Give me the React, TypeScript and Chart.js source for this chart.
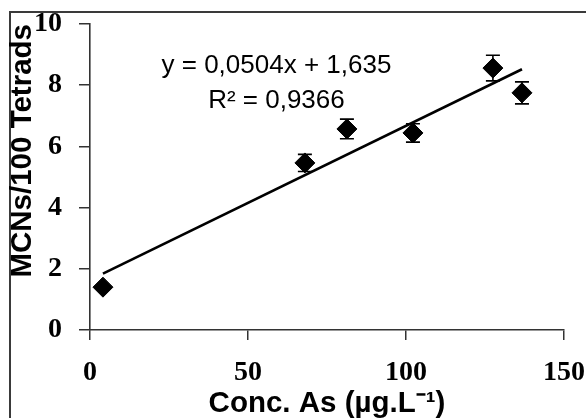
import React, { useEffect, useRef } from "react";
import { Chart, registerables } from "chart.js";

Chart.register(...registerables);

// Data
const concAs = [4.1, 68.0, 81.3, 102.2, 127.5, 136.7];
const mcnValues = [1.4, 5.46, 6.57, 6.44, 8.56, 7.75];
const mcnErrors = [0, 0.28, 0.32, 0.3, 0.42, 0.36];

const trendX = [4.1, 136.7];
const trendY = [1.84, 8.52];

const xTicks = [0, 50, 100, 150];
const yTicks = [0, 2, 4, 6, 8, 10];

const equationLines = ["y = 0,0504x + 1,635", "R² = 0,9366"];
const equationAnchorX = 59;
const equationAnchorY = [8.63, 7.48];

const xTitle = "Conc. As (µg.L⁻¹)";
const yTitle = "MCNs/100 Tetrads";

const AXIS_COLOR = "#333333";

const errorBarPlugin = {
  id: "errorBars",
  beforeDatasetsDraw(chart: any) {
    const { ctx, scales } = chart;
    const xs = scales.x;
    const ys = scales.y;
    ctx.save();
    ctx.strokeStyle = "#000";
    ctx.lineWidth = 1.6;
    concAs.forEach((x, i) => {
      const e = mcnErrors[i];
      if (!e) return;
      const px = xs.getPixelForValue(x);
      const top = ys.getPixelForValue(mcnValues[i] + e);
      const bot = ys.getPixelForValue(mcnValues[i] - e);
      const cap = 7;
      ctx.beginPath();
      ctx.moveTo(px, top);
      ctx.lineTo(px, bot);
      ctx.moveTo(px - cap, top);
      ctx.lineTo(px + cap, top);
      ctx.moveTo(px - cap, bot);
      ctx.lineTo(px + cap, bot);
      ctx.stroke();
    });
    ctx.restore();
  },
};

const equationPlugin = {
  id: "equation",
  afterDraw(chart: any) {
    const { ctx, scales } = chart;
    ctx.save();
    ctx.fillStyle = "#000";
    ctx.font = "26px 'Liberation Sans', Arial, sans-serif";
    ctx.textAlign = "center";
    ctx.textBaseline = "middle";
    const px = scales.x.getPixelForValue(equationAnchorX);
    equationLines.forEach((line, i) => {
      ctx.fillText(line, px, scales.y.getPixelForValue(equationAnchorY[i]));
    });
    ctx.restore();
  },
};

function ChartView() {
  const ref = useRef<HTMLCanvasElement | null>(null);
  useEffect(() => {
    if (!ref.current) return;
    const tickFont = { family: "'Liberation Serif', 'Times New Roman', serif", size: 28, weight: "bold" as const };
    const titleFont = { family: "'Liberation Sans', Arial, sans-serif", size: 29.5, weight: "bold" as const };
    const chart = new Chart(ref.current, {
      type: "scatter",
      data: {
        datasets: [
          {
            type: "line",
            data: trendX.map((x, i) => ({ x, y: trendY[i] })),
            borderColor: "#000",
            borderWidth: 2.6,
            pointRadius: 0,
            fill: false,
          } as any,
          {
            data: concAs.map((x, i) => ({ x, y: mcnValues[i] })),
            pointStyle: "rectRot",
            pointRadius: 10,
            backgroundColor: "#000",
            borderColor: "#000",
            borderWidth: 1,
          },
        ],
      },
      options: {
        animation: false,
        responsive: false,
        devicePixelRatio: 1,
        layout: { padding: { left: 0, right: 22, top: 24, bottom: 0 } },
        plugins: { legend: { display: false }, tooltip: { enabled: false } },
        scales: {
          x: {
            type: "linear",
            min: 0,
            max: 150,
            afterBuildTicks: (s: any) => {
              s.ticks = xTicks.map((v) => ({ value: v }));
            },
            afterFit: (s: any) => {
              s.height = 88;
              s.paddingLeft = 0;
              s.paddingRight = 0;
            },
            grid: {
              drawOnChartArea: false,
              drawTicks: true,
              tickLength: 10,
              color: AXIS_COLOR,
              lineWidth: 1.5,
            },
            border: { display: true, color: AXIS_COLOR, width: 1.6 },
            ticks: { color: "#000", font: tickFont, padding: 16, maxRotation: 0 },
            title: {
              display: true,
              text: xTitle,
              color: "#000",
              font: titleFont,
              padding: { top: 0, bottom: -4 },
            },
          },
          y: {
            type: "linear",
            min: 0,
            max: 10,
            afterBuildTicks: (s: any) => {
              s.ticks = yTicks.map((v) => ({ value: v }));
            },
            afterFit: (s: any) => {
              s.width = 90;
              s.paddingTop = 0;
              s.paddingBottom = 0;
            },
            grid: {
              drawOnChartArea: false,
              drawTicks: true,
              tickLength: 11,
              color: AXIS_COLOR,
              lineWidth: 1.5,
            },
            border: { display: true, color: AXIS_COLOR, width: 1.6 },
            ticks: { color: "#000", font: tickFont, padding: 17 },
            title: {
              display: true,
              text: yTitle,
              color: "#000",
              font: titleFont,
              align: "end",
              padding: { top: 5, bottom: 0 },
            },
          },
        },
      },
      plugins: [errorBarPlugin, equationPlugin],
    });
    return () => chart.destroy();
  }, []);
  return <canvas ref={ref} width={586} height={418} style={{ position: "absolute", left: 0, top: 0 }} />;
}

export default function App() {
  return (
    <div
      style={{
        position: "fixed",
        left: 0,
        top: 0,
        width: 586,
        height: 418,
        overflow: "hidden",
        background: "#fff",
      }}
    >
      <div
        style={{
          position: "absolute",
          left: 9,
          top: 11,
          width: 620,
          height: 440,
          border: "2px solid #3a3a3a",
          boxSizing: "border-box",
        }}
      />
      <ChartView />
    </div>
  );
}
